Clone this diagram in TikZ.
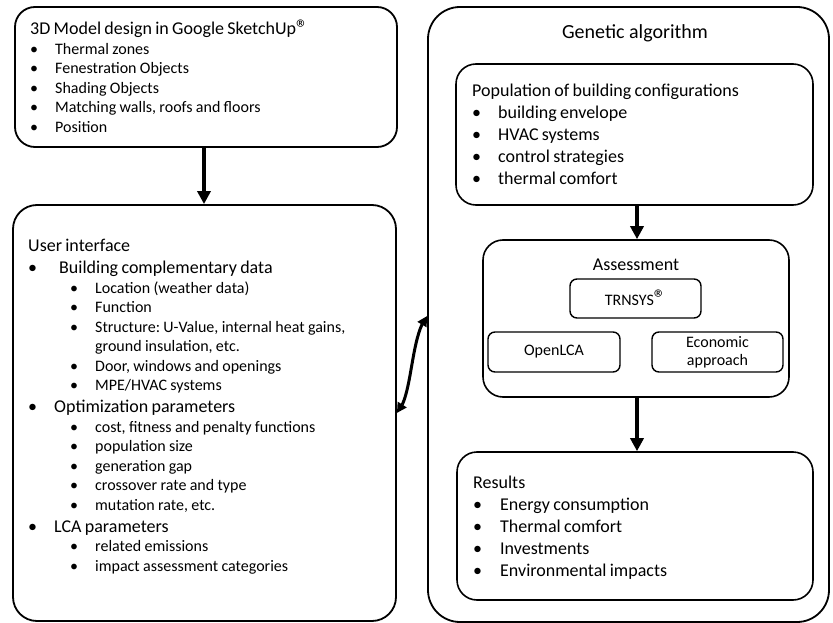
\documentclass[tikz,border=0pt]{standalone}
\usepackage{fontspec}
\setmainfont{Carlito}
\usepackage{tikz}
\usetikzlibrary{positioning, arrows.meta, bending, calc}
\setlength{\parindent}{0pt}
\frenchspacing

% list lines
\newcommand{\boxhead}[1]{{\fontsize{18}{22}\selectfont #1\par}}
\newcommand{\pointA}[2]{{\fontsize{18}{22}\selectfont\makebox[#1][l]{•}#2\par}}
\newcommand{\pointB}[3]{{\fontsize{16}{19.5}\selectfont\hspace*{#1}\makebox[#2][l]{•}#3\par}}
\newcommand{\regmark}{\raisebox{-0.1em}{\fontsize{24}{24}\selectfont ®}}

\begin{document}
\begin{tikzpicture}[x=1pt, y=-1pt,
        outer/.style={draw=black, line width=1.8pt, rectangle, rounded corners=24pt},
        inner/.style={draw=black, line width=1.6pt, rectangle, rounded corners=20pt},
        tool/.style={draw=black, line width=1.4pt, rectangle, rounded corners=7pt, align=center, font=\fontsize{16}{18}\selectfont},
        txt/.style={inner sep=0pt, anchor=base west, align=left},
        title/.style={inner sep=0pt, anchor=base},
        flow/.style={line width=3.8pt, -{Triangle[width=13pt,length=13pt]}},
        link/.style={line width=3pt, {Triangle[width=10pt,length=10pt]}-{Triangle[width=10pt,length=10pt]}}
    ]
    \useasboundingbox (0,0) rectangle (833,623);

    % Kasten links
    \node[outer, rounded corners=20pt, minimum width=382pt, minimum height=140pt] (model) at (206,77) {};
    \node[outer, minimum width=383pt, minimum height=416pt] (ui) at (204.5,413) {};

    \node[txt, text width=360pt] (modeltext) at (30,35) {%
        \boxhead{3D Model design in Google SketchUp\regmark}
        \pointB{0pt}{25pt}{Thermal zones}
        \pointB{0pt}{25pt}{Fenestration Objects}
        \pointB{0pt}{25pt}{Shading Objects}
        \pointB{0pt}{25pt}{Matching walls, roofs and floors}
        \pointB{0pt}{25pt}{Position}};

    \node[txt, text width=360pt] (uitext) at (28,251.7) {%
        \boxhead{User interface}
        \pointA{31pt}{Building complementary data}
        \pointB{42pt}{25pt}{Location (weather data)}
        \pointB{42pt}{25pt}{Function}
        \pointB{42pt}{25pt}{Structure: U-Value, internal heat gains,}
        {\fontsize{16}{19.5}\selectfont\hspace*{67pt}ground insulation, etc.\par}
        \pointB{42pt}{25pt}{Door, windows and openings}
        \pointB{42pt}{25pt}{MPE/HVAC systems}
        \pointA{26pt}{Optimization parameters}
        \pointB{42pt}{25pt}{cost, fitness and penalty functions}
        \pointB{42pt}{25pt}{population size}
        \pointB{42pt}{25pt}{generation gap}
        \pointB{42pt}{25pt}{crossover rate and type}
        \pointB{42pt}{25pt}{mutation rate, etc.}
        \pointA{26pt}{LCA parameters}
        \pointB{42pt}{25pt}{related emissions}
        \pointB{42pt}{25pt}{impact assessment categories}};

    % Kasten rechts
    \node[outer, rounded corners=32pt, minimum width=401pt, minimum height=615pt] (ga) at (628.5,314.5) {};
    \node[title, font=\fontsize{20}{24}\selectfont] (gatitle) at (635,39) {Genetic algorithm};

    \node[inner, minimum width=357pt, minimum height=141pt] (pop) at (634.5,134.5) {};
    \node[txt, text width=330pt] (poptext) at (472,96.7) {%
        \boxhead{Population of building configurations}
        \pointA{26pt}{building envelope}
        \pointA{26pt}{HVAC systems}
        \pointA{26pt}{control strategies}
        \pointA{26pt}{thermal comfort}};

    \node[inner, minimum width=306pt, minimum height=157pt] (assess) at (636,318.5) {};
    \node[title, font=\fontsize{18}{22}\selectfont] (assesstitle) at (636,270) {Assessment};
    \node[tool, minimum width=131pt, minimum height=39pt] (trnsys) at (635.5,298.5) {TRNSYS\regmark};
    \node[tool, minimum width=132pt, minimum height=40pt] (openlca) at (554,352) {OpenLCA};
    \node[tool, minimum width=131pt, minimum height=40pt] (econ) at (717.5,352) {Economic\\approach};

    \node[inner, minimum width=356pt, minimum height=148pt] (res) at (635,526) {};
    \node[txt, text width=330pt] (restext) at (473,488) {%
        \boxhead{Results}
        \pointA{27pt}{Energy consumption}
        \pointA{27pt}{Thermal comfort}
        \pointA{27pt}{Investments}
        \pointA{27pt}{Environmental impacts}};

    % Pfeile
    \draw[flow] ([xshift=-2pt]model.south) -- ([xshift=-2pt]model.south |- ui.north);
    \draw[flow] ([xshift=2.5pt]pop.south) -- ([xshift=2.5pt]pop.south |- assess.north);
    \draw[flow] ([xshift=1pt]assess.south) -- ([xshift=1pt]assess.south |- res.north);
    \draw[link] (ui.east) .. controls ([xshift=16pt,yshift=16pt]ui.east) and ([xshift=-17pt,yshift=-22pt]ga.west) .. ([yshift=-1.5pt]ga.west);

\end{tikzpicture}
\end{document}
